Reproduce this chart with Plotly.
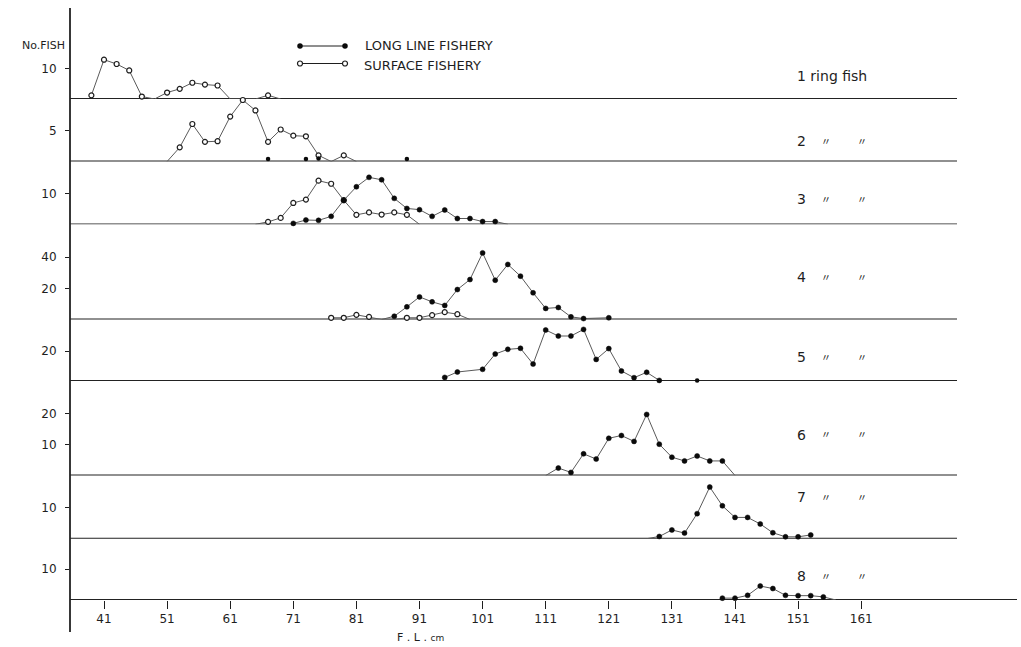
import plotly.graph_objects as go

# ---------------- data (fork length cm, number of fish) ----------------
p1_surface_x = [39, 41, 43, 45, 47, 49, 51, 53, 55, 57, 59, 61, 63, 65, 67, 69]
p1_surface_y = [1.2, 12.8, 11.4, 9.3, 0.8, 0, 2.1, 3.3, 5.3, 4.7, 4.4, 0, 0, 0, 1.2, 0]

p2_surface_x = [51, 53, 55, 57, 59, 61, 63, 65, 67, 69, 71, 73, 75, 77, 79, 81]
p2_surface_y = [0, 2.3, 6.1, 3.2, 3.3, 7.3, 10.0, 8.3, 3.2, 5.2, 4.2, 4.1, 1.0, 0, 1.0, 0]
p2_longline_x = [67, 73, 75, 89]
p2_longline_y = [0.4, 0.4, 0.5, 0.4]

p3_surface_x = [65, 67, 69, 71, 73, 75, 77, 79, 81, 83, 85, 87, 89, 91]
p3_surface_y = [0, 0.8, 2.1, 7.0, 8.1, 14.3, 13.3, 7.9, 3.1, 3.9, 3.2, 3.9, 3.1, 0]
p3_longline_x = [71, 73, 75, 77, 79, 81, 83, 85, 87, 89, 91, 93, 95, 97, 99, 101, 103, 105]
p3_longline_y = [0.3, 1.4, 1.3, 2.6, 7.9, 12.3, 15.4, 14.6, 8.5, 5.2, 4.8, 2.6, 4.7, 1.9, 1.9, 0.9, 0.9, 0]

p4_surface_x = [77, 79, 81, 83, 85, 87, 89, 91, 93, 95, 97, 99]
p4_surface_y = [1.1, 1.1, 3.0, 1.7, 0, 0, 1.1, 1.1, 2.8, 4.7, 3.4, 0]
p4_longline_x = [85, 87, 89, 91, 93, 95, 97, 99, 101, 103, 105, 107, 109, 111, 113, 115, 117, 121]
p4_longline_y = [0, 2.1, 8.1, 14.5, 11.3, 9.0, 19.2, 25.6, 42.7, 25.2, 35.3, 27.8, 17.1, 7.1, 7.7, 1.7, 0.6, 1.1]

p5_longline_x = [95, 97, 101, 103, 105, 107, 109, 111, 113, 115, 117, 119, 121, 123, 125, 127, 129]
p5_longline_y = [2.4, 6.0, 7.8, 18, 21.1, 21.8, 11.3, 34, 30, 30, 34.4, 14.4, 21.6, 6.7, 2.2, 5.8, 0.4]
p5_extra_x = [135]
p5_extra_y = [0.3]

p6_longline_x = [111, 113, 115, 117, 119, 121, 123, 125, 127, 129, 131, 133, 135, 137, 139, 141]
p6_longline_y = [0, 2.4, 1.0, 7.0, 5.3, 12.0, 12.9, 11.0, 19.7, 10.1, 5.9, 4.7, 6.3, 4.7, 4.7, 0]

p7_longline_x = [127, 129, 131, 133, 135, 137, 139, 141, 143, 145, 147, 149, 151, 153]
p7_longline_y = [0, 0.7, 2.8, 1.8, 8.0, 16.5, 10.5, 6.8, 6.8, 4.7, 1.9, 0.6, 0.6, 1.2]

p8_longline_x = [139, 141, 143, 145, 147, 149, 151, 153, 155, 157]
p8_longline_y = [0.6, 0.6, 1.5, 4.5, 3.7, 1.5, 1.4, 1.4, 1.0, 0]

panel_labels = ["1 ring fish", "2", "3", "4", "5", "6", "7", "8"]
panel_yticks = [[10], [5], [10], [20, 40], [20], [10, 20], [10], [10]]
x_ticks = [41, 51, 61, 71, 81, 91, 101, 111, 121, 131, 141, 151, 161]

# ---------------- layout geometry ----------------
W, H = 1021, 647
L, R = 70, 957
TOP, BOT = 8, 600
PH = BOT - TOP
PW = R - L
baselines = [99, 161.5, 224.3, 319.5, 381, 475.5, 538.7, 600]
tops = [TOP] + baselines[:-1]
px_per_fish = [3.07, 6.15, 3.05, 1.56, 1.5, 3.1, 3.13, 3.1]
X0 = 41 - (104 - L) / 6.31
X1 = 41 + (R - 104) / 6.31

LINE = "#5a5a5a"
INK = "#1e1e1e"
DOT = "#0a0a0a"
FONT = "DejaVu Sans"


def px(x):
    return (x - L) / PW


def py(y):
    return (BOT - y) / PH


def yname(i):
    return "y" if i == 0 else f"y{i + 1}"


def ylayout(i):
    return "yaxis" if i == 0 else f"yaxis{i + 1}"


fig = go.Figure()


def sizes(ys, s):
    # zero classes are drawn only as the line touching the baseline
    return [0 if v == 0 else s for v in ys]


series = [
    (0, p1_surface_x, p1_surface_y, "surface"),
    (1, p2_surface_x, p2_surface_y, "surface"),
    (2, p3_surface_x, p3_surface_y, "surface"),
    (2, p3_longline_x, p3_longline_y, "longline"),
    (3, p4_surface_x, p4_surface_y, "surface"),
    (3, p4_longline_x, p4_longline_y, "longline"),
    (4, p5_longline_x, p5_longline_y, "longline"),
    (5, p6_longline_x, p6_longline_y, "longline"),
    (6, p7_longline_x, p7_longline_y, "longline"),
    (7, p8_longline_x, p8_longline_y, "longline"),
]
for i, xs, ys, kind in series:
    if kind == "surface":
        mk = dict(symbol="circle", size=sizes(ys, 5), color="white", opacity=1,
                  line=dict(color=INK, width=1.2))
    else:
        mk = dict(symbol="circle", size=sizes(ys, 5), color=DOT, opacity=1,
                  line=dict(color=DOT, width=0.5))
    fig.add_trace(go.Scatter(x=xs, y=ys, xaxis="x", yaxis=yname(i), mode="lines+markers",
                             line=dict(color=LINE, width=1), marker=mk,
                             showlegend=False, cliponaxis=False))

# isolated longline dots
marker_only = dict(mode="markers", marker=dict(symbol="circle", size=4.5, color=DOT, opacity=1),
                   showlegend=False, cliponaxis=False)
fig.add_trace(go.Scatter(x=p2_longline_x, y=p2_longline_y, xaxis="x", yaxis=yname(1), **marker_only))
fig.add_trace(go.Scatter(x=p5_extra_x, y=p5_extra_y, xaxis="x", yaxis=yname(4), **marker_only))

layout = dict(
    width=W, height=H,
    margin=dict(l=L, r=W - R, t=TOP, b=H - BOT),
    paper_bgcolor="white", plot_bgcolor="rgba(0,0,0,0)",
    font=dict(family=FONT, color=INK, size=11),
    showlegend=False,
    xaxis=dict(range=[X0, X1], anchor="y8", tickvals=x_ticks, ticktext=[str(v) for v in x_ticks],
               ticks="outside", ticklen=8, tickcolor=INK, tickwidth=1.2,
               showline=False, showgrid=False, zeroline=False,
               tickfont=dict(size=12, family=FONT, color=INK)),
    xaxis9=dict(domain=[0, 1], range=[L, R], anchor="y9", visible=False, fixedrange=True),
    yaxis9=dict(domain=[0, 1], range=[BOT, TOP], anchor="x9", visible=False, fixedrange=True),
)
for i in range(8):
    b, t = baselines[i], tops[i]
    layout[ylayout(i)] = dict(
        domain=[py(b), py(t)], range=[0, (b - t) / px_per_fish[i]], anchor="x",
        tickvals=panel_yticks[i], ticks="outside", ticklen=4, tickcolor=INK,
        ticklabelstandoff=6,
        showline=False, showgrid=False, zeroline=False,
        tickfont=dict(size=12, family=FONT, color=INK))
fig.update_layout(**layout)

# baselines
shapes = []
for i in range(8):
    shapes.append(dict(type="line", xref="paper", yref=yname(i), x0=0,
                       x1=(px(1017) if i == 7 else 1), y0=0, y1=0,
                       line=dict(color="#222222", width=1.8), layer="below"))
# vertical axis line
shapes.append(dict(type="line", xref="paper", yref="paper", x0=0, x1=0,
                   y0=py(632), y1=1, line=dict(color="#222222", width=1.8)))
fig.update_layout(shapes=shapes)

# legend samples drawn on a pixel overlay axis
fig.add_trace(go.Scatter(x=[300, 345], y=[46, 46], xaxis="x9", yaxis="y9",
                         mode="lines+markers", line=dict(color=INK, width=1),
                         marker=dict(size=5.5, color=DOT), showlegend=False, hoverinfo="skip"))
fig.add_trace(go.Scatter(x=[300, 345], y=[63.5, 63.5], xaxis="x9", yaxis="y9",
                         mode="lines+markers", line=dict(color=INK, width=1),
                         marker=dict(size=5, color="white", line=dict(color=INK, width=1.2)),
                         showlegend=False, hoverinfo="skip"))

ann = []
ann.append(dict(x=px(363), y=py(46), xref="paper", yref="paper", text="LONG LINE FISHERY",
                showarrow=False, xanchor="left", yanchor="middle",
                font=dict(size=13, family=FONT, color=INK)))
ann.append(dict(x=px(362), y=py(65), xref="paper", yref="paper", text="SURFACE FISHERY",
                showarrow=False, xanchor="left", yanchor="middle",
                font=dict(size=13, family=FONT, color=INK)))
ann.append(dict(x=px(43), y=py(45), xref="paper", yref="paper", text="No.FISH",
                showarrow=False, xanchor="center", yanchor="middle",
                font=dict(size=11, family=FONT, color=INK)))
ann.append(dict(x=px(420), y=py(637), xref="paper", yref="paper",
                text="F . L . <span style='font-size:9px'>cm</span>",
                showarrow=False, xanchor="center", yanchor="middle",
                font=dict(size=11, family=FONT, color=INK)))

label_y = [75.5, 141, 199, 277, 357, 435, 497, 576]
for i, lab in enumerate(panel_labels):
    ann.append(dict(x=px(795), y=py(label_y[i]), xref="paper", yref="paper", text=lab,
                    showarrow=False, xanchor="left", yanchor="middle",
                    font=dict(size=14, family=FONT, color=INK)))
    if i > 0:
        for xm in (826, 862):
            ann.append(dict(x=px(xm), y=py(label_y[i] - 1), xref="paper", yref="paper",
                            text="\u3003", showarrow=False, xanchor="center", yanchor="middle",
                            font=dict(size=10, family="Noto Sans CJK JP", color=INK)))
fig.update_layout(annotations=ann)

fig.write_html("out.html")
